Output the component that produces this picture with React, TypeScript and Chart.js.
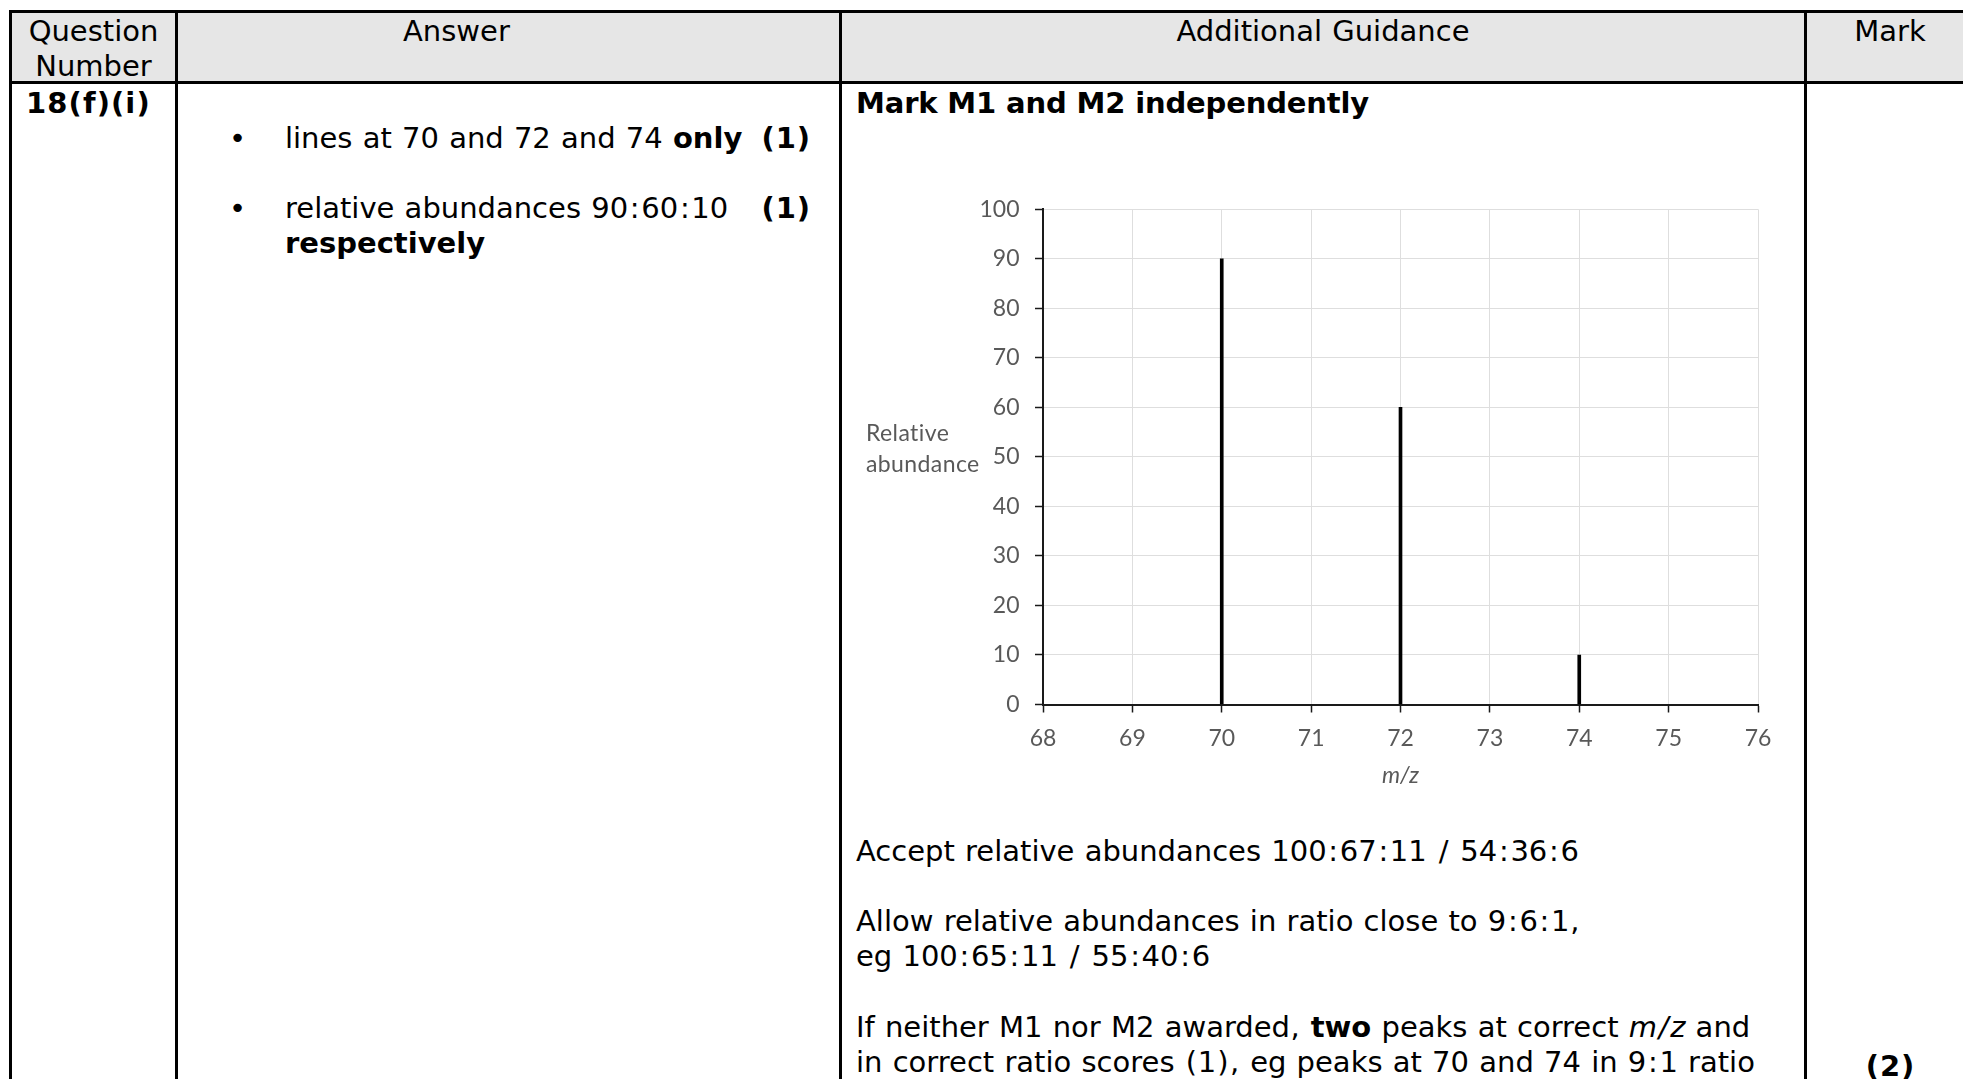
import React, { useEffect, useRef } from 'react';
import { Chart, registerables } from 'chart.js';

Chart.register(...registerables);

// ---- chart data ----
const mzValues = [70, 72, 74];
const abundances = [90, 60, 10];
const xRange = [68, 76];
const yRange = [0, 100];
const xStep = 1;
const yStep = 10;
const xAxisTitle = 'm/z';
const yAxisTitleLines = ['Relative', 'abundance'];

// ---- table text ----
const headerQuestion = ['Question', 'Number'];
const headerAnswer = 'Answer';
const headerGuidance = 'Additional Guidance';
const headerMark = 'Mark';
const questionNumber = '18(f)(i)';

const TXT = '#000000';
const AXIS_GREY = '#595959';

const base: React.CSSProperties = {
  position: 'absolute',
  fontFamily: '"DejaVu Sans", Verdana, sans-serif',
  fontSize: 29,
  lineHeight: '35px',
  color: TXT,
  whiteSpace: 'pre',
  wordSpacing: 1,
};

// widen punctuation a little so DejaVu Sans approaches Verdana metrics
const PAD: Record<string, number> = { ':': 1.7, '/': 1.7, '(': 0.9, ')': 0.9, ',': 0.65 };
function V(s: string): React.ReactNode[] {
  const out: React.ReactNode[] = [];
  let buf = '';
  let k = 0;
  for (const ch of s) {
    if (PAD[ch] !== undefined) {
      if (buf) out.push(buf);
      buf = '';
      out.push(
        <span key={k++} style={{ padding: `0 ${PAD[ch]}px` }}>
          {ch}
        </span>
      );
    } else buf += ch;
  }
  if (buf) out.push(buf);
  return out;
}

function Line({ x, y, w, align, bold, ls, ws, children }: any) {
  const st: React.CSSProperties = { ...base, left: x, top: y, fontWeight: bold ? 'bold' : 'normal' };
  if (ls !== undefined) st.letterSpacing = ls;
  if (ws !== undefined) st.wordSpacing = ws;
  if (w !== undefined) {
    st.width = w;
    st.textAlign = align || 'left';
  }
  return <div style={st}>{children}</div>;
}

function Rule({ x, y, w, h }: any) {
  return <div style={{ position: 'absolute', left: x, top: y, width: w, height: h, background: '#000' }} />;
}

function MassSpectrum() {
  const ref = useRef<HTMLCanvasElement>(null);
  useEffect(() => {
    if (!ref.current) return;
    const chart = new Chart(ref.current, {
      type: 'bar',
      data: {
        datasets: [
          {
            data: mzValues.map((m, i) => ({ x: m, y: abundances[i] })),
            backgroundColor: '#000000',
            borderWidth: 0,
            barThickness: 3,
          },
        ],
      },
      options: {
        responsive: false,
        animation: false,
        layout: { padding: { top: 18.4, right: 42, bottom: 0, left: 0 } },
        plugins: { legend: { display: false }, tooltip: { enabled: false }, title: { display: false } },
        scales: {
          x: {
            type: 'linear',
            min: xRange[0],
            max: xRange[1],
            offset: false,
            ticks: {
              stepSize: xStep,
              color: AXIS_GREY,
              font: { family: 'Lato', size: 23 },
              padding: 12.7,
              autoSkip: false,
              maxRotation: 0,
            },
            grid: {
              color: '#dedede',
              lineWidth: 1,
              tickColor: '#1a1a1a',
              tickWidth: 1.5,
              tickLength: 8,
              offset: false,
            },
            border: { color: '#1a1a1a', width: 2 },
            title: {
              display: true,
              text: xAxisTitle,
              color: AXIS_GREY,
              font: { family: 'Lato', size: 23, style: 'italic' },
              padding: { top: 0, bottom: 31 },
            },
            afterFit: (s: any) => {
              s.height = 115.5;
            },
          },
          y: {
            min: yRange[0],
            max: yRange[1],
            ticks: {
              stepSize: yStep,
              color: AXIS_GREY,
              font: { family: 'Lato', size: 23 },
              padding: 15.5,
            },
            grid: {
              color: '#dedede',
              lineWidth: 1,
              tickColor: '#1a1a1a',
              tickWidth: 1.5,
              tickLength: 8,
            },
            border: { color: '#1a1a1a', width: 2 },
            afterFit: (s: any) => {
              s.width = 143;
            },
          },
        },
      },
    } as any);
    return () => chart.destroy();
  }, []);
  return (
    <>
      <canvas ref={ref} width={900} height={640} style={{ position: 'absolute', left: 900, top: 180 }} />
      <div
        style={{
          position: 'absolute',
          left: 866,
          top: 417,
          fontFamily: 'Lato, sans-serif',
          fontSize: 23,
          lineHeight: '31px',
          color: AXIS_GREY,
          letterSpacing: 0.4,
        }}
      >
        {yAxisTitleLines.map((l) => (
          <div key={l}>{l}</div>
        ))}
      </div>
    </>
  );
}

export default function App() {
  const right = 1975;
  return (
    <div style={{ position: 'fixed', left: 0, top: 0, width: 1963, height: 1079, overflow: 'hidden', background: '#fff' }}>
      {/* header background */}
      <div style={{ position: 'absolute', left: 9, top: 10, width: right - 9, height: 74, background: '#e6e6e6' }} />

      {/* borders */}
      <Rule x={9} y={10} w={right - 9} h={3} />
      <Rule x={9} y={81} w={right - 9} h={3} />
      <Rule x={9} y={10} w={3} h={1100} />
      <Rule x={175} y={10} w={3} h={1100} />
      <Rule x={839} y={10} w={3} h={1100} />
      <Rule x={1804} y={10} w={3} h={1100} />

      {/* header text */}
      <Line x={12} y={14} w={163} align="center">{headerQuestion[0]}</Line>
      <Line x={12} y={49} w={163} align="center">{headerQuestion[1]}</Line>
      <Line x={403} y={14}>{headerAnswer}</Line>
      <Line x={842} y={14} w={962} align="center">{headerGuidance}</Line>
      <Line x={1807} y={14} w={166} align="center">{headerMark}</Line>

      {/* question number */}
      <Line x={26} y={86} bold ls={1.1}>{questionNumber}</Line>

      {/* answer column */}
      <Line x={229} y={121}>{'\u2022'}</Line>
      <Line x={285} y={121}>
        {V('lines at 70 and 72 and 74 ')}<b>only</b>
      </Line>
      <Line x={611} y={121} w={200} align="right" bold>{V('(1)')}</Line>
      <Line x={229} y={191}>{'\u2022'}</Line>
      <Line x={285} y={191}>{V('relative abundances 90:60:10')}</Line>
      <Line x={611} y={191} w={200} align="right" bold>{V('(1)')}</Line>
      <Line x={285} y={226} bold>respectively</Line>

      {/* guidance column */}
      <Line x={856} y={86} bold ws={0} ls={-0.15}>Mark M1 and M2 independently</Line>
      <MassSpectrum />
      <Line x={856} y={834}>{V('Accept relative abundances 100:67:11 / 54:36:6')}</Line>
      <Line x={856} y={904}>{V('Allow relative abundances in ratio close to 9:6:1,')}</Line>
      <Line x={856} y={939}>{V('eg 100:65:11 / 55:40:6')}</Line>
      <Line x={856} y={1010}>
        {V('If neither M1 nor M2 awarded, ')}<b>two</b>{' peaks at correct '}<i>{V('m/z')}</i>{' and'}
      </Line>
      <Line x={856} y={1045}>{V('in correct ratio scores (1), eg peaks at 70 and 74 in 9:1 ratio')}</Line>

      {/* mark column */}
      <Line x={1807} y={1049} w={166} align="center" bold>{V('(2)')}</Line>
    </div>
  );
}
